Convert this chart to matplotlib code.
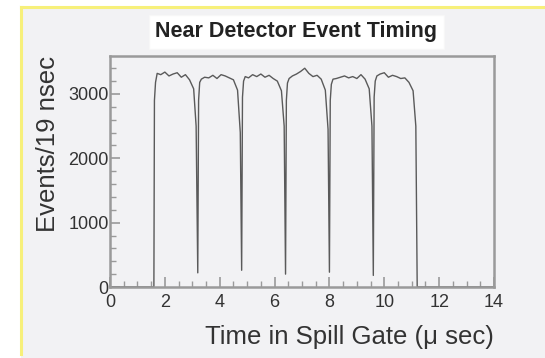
import matplotlib
matplotlib.use("Agg")
import matplotlib.pyplot as plt
from matplotlib.patches import Rectangle
from matplotlib.lines import Line2D
from matplotlib.ticker import MultipleLocator

plt.rcParams.update({
    "font.family": ["Liberation Sans", "DejaVu Sans"],
    "font.size": 12,
})

# histogram outline (time in us, events per 19 ns bin)
time_us = [
    0.00, 1.60, 1.62, 1.66, 1.72, 1.85, 2.00, 2.15, 2.30, 2.45, 2.60, 2.75, 2.90, 3.05, 3.14, 3.20,
    3.23, 3.27, 3.33, 3.45, 3.60, 3.75, 3.90, 4.05, 4.20, 4.35, 4.50, 4.65, 4.75, 4.80,
    4.83, 4.87, 4.93, 5.05, 5.20, 5.35, 5.50, 5.65, 5.80, 5.95, 6.10, 6.25, 6.35, 6.40,
    6.43, 6.47, 6.53, 6.65, 6.80, 6.95, 7.10, 7.25, 7.40, 7.55, 7.70, 7.85, 7.95, 8.00,
    8.03, 8.07, 8.13, 8.25, 8.40, 8.55, 8.70, 8.85, 9.00, 9.15, 9.30, 9.45, 9.55, 9.60,
    9.63, 9.67, 9.73, 9.85, 10.00, 10.15, 10.30, 10.45, 10.60, 10.75, 10.90, 11.05, 11.15, 11.20,
    11.22, 14.00,
]
counts = [
    0, 0, 2900, 3180, 3320, 3300, 3340, 3280, 3310, 3330, 3260, 3300, 3220, 3080, 2500, 220,
    2900, 3180, 3230, 3260, 3250, 3290, 3240, 3300, 3280, 3250, 3220, 3060, 2400, 260,
    2950, 3200, 3270, 3250, 3300, 3270, 3310, 3260, 3290, 3240, 3200, 3050, 2500, 200,
    2900, 3170, 3240, 3280, 3310, 3350, 3400, 3320, 3270, 3290, 3230, 3060, 2450, 230,
    2900, 3150, 3230, 3240, 3260, 3280, 3250, 3270, 3240, 3300, 3230, 3080, 2500, 180,
    2950, 3200, 3280, 3310, 3330, 3260, 3290, 3270, 3240, 3250, 3180, 3050, 2500, 0,
    0, 0,
]

x_ticks = [0, 2, 4, 6, 8, 10, 12, 14]
y_ticks = [0, 1000, 2000, 3000]

FRAME = "#9a9a9a"
PANEL = "#f2f2f4"
TEXT = "#333333"

fig = plt.figure(figsize=(5.45, 3.58), dpi=100, facecolor="white")

# pad background with yellow left/top edge
W, H = 545, 358
fig.patches.append(Rectangle((21 / W, 0), 1 - 21 / W, 1 - 7 / H,
                             transform=fig.transFigure, facecolor=PANEL,
                             edgecolor="none", zorder=-10))
fig.lines.append(Line2D([21 / W, 21 / W], [0.01, 1 - 7 / H], transform=fig.transFigure,
                        color="#f7f07a", lw=2.2, zorder=-5))
fig.lines.append(Line2D([21 / W, 1], [1 - 7 / H, 1 - 7 / H], transform=fig.transFigure,
                        color="#f7f07a", lw=2.2, zorder=-5))

ax = fig.add_axes([110 / W, 1 - 287 / H, 384 / W, 231 / H])
ax.set_facecolor(PANEL)
ax.plot(time_us, counts, color="#5a5a5a", lw=1.0)

ax.set_xlim(0, 14)
ax.set_ylim(0, 3590)
ax.set_xticks(x_ticks)
ax.set_yticks(y_ticks)
ax.xaxis.set_minor_locator(MultipleLocator(0.5))
ax.yaxis.set_minor_locator(MultipleLocator(200))
ax.tick_params(which="both", direction="in", colors=FRAME, labelcolor=TEXT,
               labelsize=13, top=False, right=False)
ax.tick_params(which="major", length=7, width=1.2)
ax.tick_params(which="minor", length=4, width=1)
ax.tick_params(axis="y", pad=1)
ax.tick_params(axis="x", pad=5)
for s in ax.spines.values():
    s.set_color(FRAME)
    s.set_linewidth(1.8)

ax.set_xlabel("Time in Spill Gate (\u03bc sec)", loc="right", fontsize=18.5,
              color=TEXT, labelpad=10)
ax.set_ylabel("Events/19 nsec", loc="top", fontsize=18.5, color=TEXT, labelpad=6)

fig.text(0.544, 1 - 32 / H, "Near Detector Event Timing", ha="center", va="center",
         fontsize=15.5, fontweight="bold", color="#222222",
         bbox=dict(boxstyle="square,pad=0.3", facecolor="white", edgecolor="#f7f7f7"))

fig.savefig("out.png", dpi=100, facecolor="white")
